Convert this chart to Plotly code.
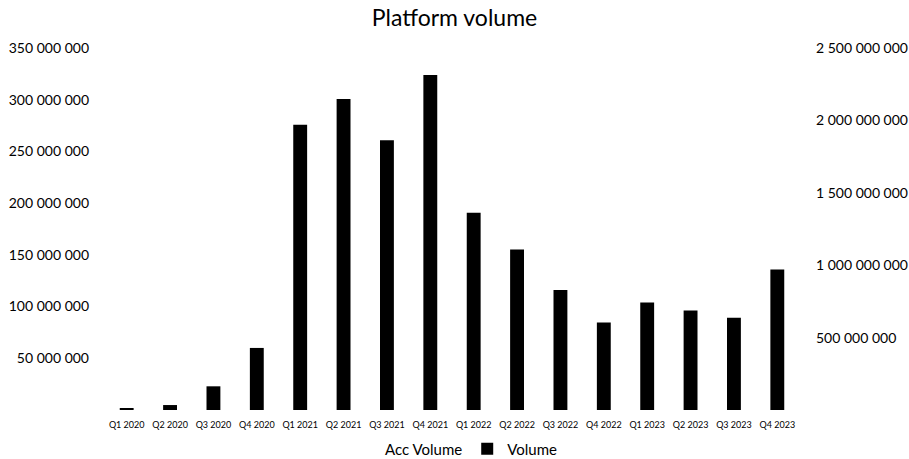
import plotly.graph_objects as go

# Quarterly platform volume, 2020-2023
quarters = [
    "Q1 2020", "Q2 2020", "Q3 2020", "Q4 2020",
    "Q1 2021", "Q2 2021", "Q3 2021", "Q4 2021",
    "Q1 2022", "Q2 2022", "Q3 2022", "Q4 2022",
    "Q1 2023", "Q2 2023", "Q3 2023", "Q4 2023",
]
volume = [
    1_000_000, 4_800_000, 22_900_000, 60_000_000,
    275_800_000, 300_700_000, 260_700_000, 324_000_000,
    190_700_000, 155_200_000, 116_000_000, 84_700_000,
    104_000_000, 96_300_000, 89_200_000, 135_900_000,
]
acc_volume = [
    1_000_000, 5_800_000, 28_700_000, 88_700_000,
    364_500_000, 665_200_000, 925_900_000, 1_249_900_000,
    1_440_600_000, 1_595_800_000, 1_711_800_000, 1_796_500_000,
    1_900_500_000, 1_996_800_000, 2_086_000_000, 2_221_900_000,
]
left_ticks = [50_000_000, 100_000_000, 150_000_000, 200_000_000,
              250_000_000, 300_000_000, 350_000_000]
right_ticks = [500_000_000, 1_000_000_000, 1_500_000_000,
               2_000_000_000, 2_500_000_000]

FONT = "Lato"

fig = go.Figure()

# cumulative series sits on the secondary axis with no visible line
fig.add_trace(go.Scatter(
    x=quarters, y=acc_volume, name="Acc Volume", yaxis="y2",
    mode="lines", line=dict(color="rgba(0,0,0,0)", width=2),
))
fig.add_trace(go.Bar(
    x=quarters, y=volume, name="Volume",
    marker=dict(color="#000000", line=dict(width=0)),
))

fig.update_layout(
    width=909, height=459,
    margin=dict(l=105, r=110, t=48, b=49),
    paper_bgcolor="white", plot_bgcolor="white",
    separators=". ",
    font=dict(family=FONT, color="#000000"),
    title=dict(
        text="Platform volume", x=0.5, xanchor="center",
        y=1 - 18 / 459, yanchor="middle", yref="container",
        font=dict(size=23, family=FONT, color="#000000"),
    ),
    bargap=0.68,
    showlegend=True,
    legend=dict(
        orientation="h", x=345 / 909, xanchor="left", xref="container",
        y=(459 - 449) / 459, yanchor="middle", yref="container",
        font=dict(size=15, family=FONT), traceorder="normal",
        itemwidth=30,
    ),
    xaxis=dict(
        type="category", showgrid=False, zeroline=False, showline=False,
        automargin=False,
        ticks="", ticklabelstandoff=8, tickfont=dict(size=9, family=FONT),
    ),
    yaxis=dict(
        range=[0, 350_000_000], tickvals=left_ticks, tickformat=",d",
        showgrid=False, zeroline=False, showline=False, ticks="",
        automargin=False,
        ticklabelstandoff=15, tickfont=dict(size=14, family=FONT),
    ),
    yaxis2=dict(
        range=[0, 2_500_000_000], tickvals=right_ticks, tickformat=",d",
        overlaying="y", side="right", automargin=False,
        showgrid=False, zeroline=False, showline=False, ticks="",
        ticklabelstandoff=16, tickfont=dict(size=14, family=FONT),
    ),
)

fig.write_html("out.html")
